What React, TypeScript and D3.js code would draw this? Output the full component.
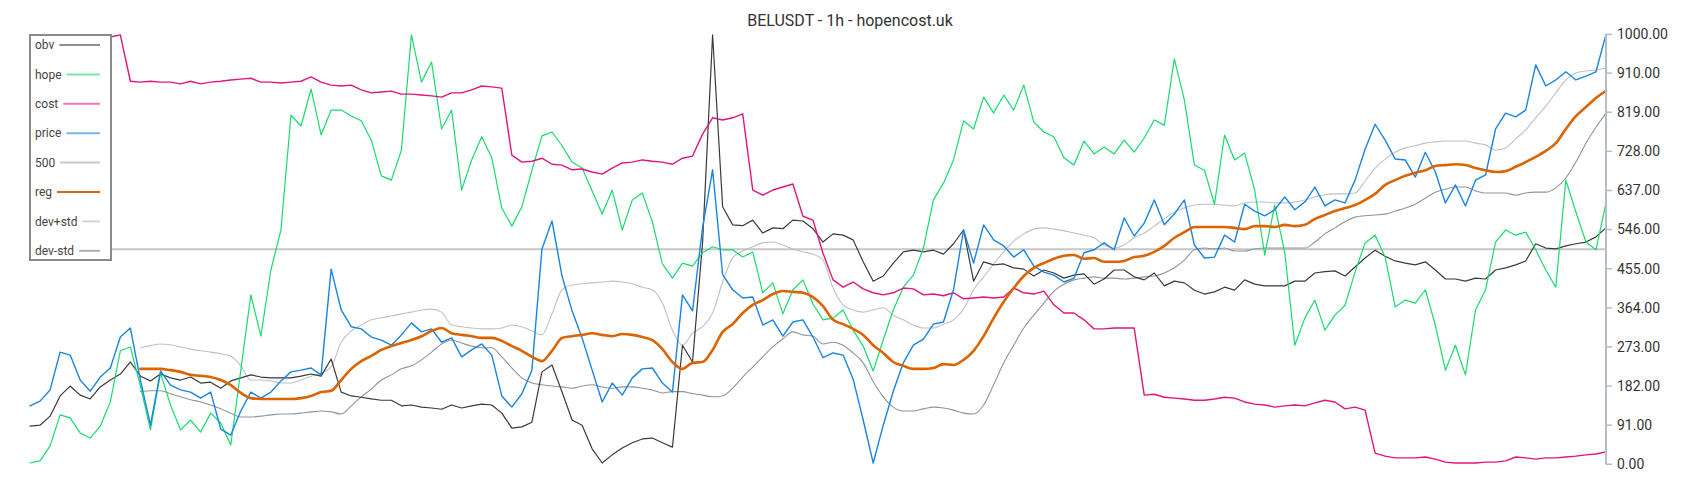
import React from "react";
import * as d3 from "d3";

const W = 1700;
const H = 500;
const title = "BELUSDT - 1h - hopencost.uk";
const seriesNames = ["obv", "hope", "cost", "price", "500", "reg", "dev+std", "dev-std"];
const yTicks = [0, 91, 182, 273, 364, 455, 546, 637, 728, 819, 910, 1000];
const level500 = 500;
const bandStart = 11;

const obv = [
  89, 91, 112, 159, 182, 161, 152, 180, 196, 210,
  238, 205, 194, 210, 201, 196, 203, 189, 191, 177,
  194, 201, 208, 203, 201, 201, 201, 205, 210, 205,
  245, 168, 159, 156, 152, 149, 149, 136, 138, 133,
  131, 128, 138, 131, 136, 140, 138, 119, 84, 87,
  98, 215, 231, 168, 103, 91, 36, 3, 22, 38,
  50, 59, 61, 50, 40, 277, 238, 515, 999, 599,
  557, 555, 568, 538, 550, 548, 568, 566, 548, 517,
  536, 533, 522, 471, 426, 438, 468, 494, 498, 494,
  498, 489, 513, 545, 426, 471, 464, 466, 457, 454,
  438, 452, 445, 433, 440, 443, 419, 431, 452, 452,
  436, 429, 445, 415, 426, 422, 405, 396, 401, 412,
  405, 429, 419, 415, 415, 415, 426, 426, 445, 448,
  450, 438, 459, 480, 498, 484, 473, 468, 464, 471,
  452, 431, 431, 426, 433, 431, 452, 457, 464, 473,
  513, 503, 501, 508, 513, 517, 529, 550,
];

const hope = [
  3, 8, 43, 115, 108, 73, 61, 89, 145, 264,
  273, 182, 80, 212, 138, 80, 103, 75, 119, 96,
  45, 219, 394, 298, 452, 545, 812, 787, 873, 766,
  824, 824, 810, 799, 754, 671, 661, 731, 999, 889,
  936, 780, 824, 638, 708, 762, 713, 596, 554, 599,
  684, 764, 773, 741, 703, 689, 636, 582, 638, 545,
  615, 631, 564, 466, 433, 468, 461, 492, 506, 499,
  499, 482, 494, 399, 422, 350, 406, 429, 373, 336,
  340, 359, 312, 275, 217, 289, 359, 412, 440, 503,
  615, 654, 708, 799, 780, 854, 817, 859, 824, 882,
  796, 773, 762, 713, 696, 752, 722, 738, 722, 754,
  726, 759, 801, 789, 943, 847, 696, 684, 605, 766,
  708, 724, 638, 487, 603, 492, 277, 340, 382, 312,
  347, 370, 447, 515, 533, 482, 366, 382, 375, 406,
  324, 219, 277, 208, 359, 406, 517, 545, 533, 540,
  499, 452, 412, 661, 587, 517, 499, 608,
];

const cost = [
  994, 994, 994, 994, 994, 994, 994, 994, 994, 999,
  891, 889, 891, 889, 889, 885, 891, 885, 889, 891,
  894, 896, 898, 889, 889, 887, 889, 891, 901, 889,
  882, 880, 882, 871, 864, 866, 868, 861, 861, 859,
  857, 854, 864, 864, 871, 880, 878, 875, 719, 703,
  705, 712, 698, 696, 685, 687, 680, 675, 689, 701,
  703, 708, 705, 703, 698, 712, 717, 768, 806, 801,
  806, 815, 638, 626, 638, 645, 652, 577, 568, 491,
  429, 412, 424, 408, 399, 394, 399, 410, 408, 394,
  396, 392, 399, 385, 387, 389, 387, 389, 410, 399,
  396, 403, 371, 352, 352, 336, 315, 315, 317, 317,
  317, 161, 163, 156, 154, 152, 149, 149, 152, 156,
  154, 145, 140, 138, 133, 136, 138, 136, 143, 149,
  145, 129, 133, 126, 26, 19, 15, 15, 15, 17,
  12, 5, 3, 3, 3, 5, 5, 8, 17, 15,
  12, 15, 15, 17, 19, 22, 24, 29,
];

const price = [
  136, 147, 173, 261, 254, 196, 170, 203, 224, 296,
  317, 196, 91, 217, 184, 173, 168, 154, 168, 82,
  68, 124, 168, 154, 168, 194, 215, 219, 224, 208,
  454, 359, 320, 315, 296, 289, 277, 301, 329, 308,
  315, 284, 294, 250, 266, 280, 254, 159, 133, 164,
  219, 501, 566, 438, 357, 294, 219, 145, 189, 161,
  201, 222, 224, 189, 168, 394, 357, 550, 685, 441,
  406, 387, 389, 324, 336, 298, 331, 336, 296, 248,
  259, 254, 198, 103, 3, 91, 170, 236, 277, 291,
  326, 331, 406, 545, 468, 557, 522, 508, 482, 499,
  461, 447, 440, 424, 433, 492, 499, 515, 499, 573,
  531, 561, 615, 557, 582, 615, 510, 480, 482, 533,
  517, 605, 589, 578, 592, 622, 592, 610, 645, 601,
  615, 608, 661, 733, 791, 754, 710, 708, 668, 726,
  680, 608, 650, 601, 661, 673, 780, 817, 808, 824,
  929, 880, 894, 913, 894, 903, 913, 1000,
];

const reg = [
  222, 222, 222, 219, 215, 208, 206, 203, 196,
  184, 166, 154, 152, 152, 152, 152, 154, 159, 168,
  171, 196, 222, 240, 252, 266, 275, 282, 289, 298,
  310, 317, 305, 301, 298, 294, 294, 287, 275, 264,
  250, 240, 264, 294, 298, 301, 305, 301, 298, 303,
  301, 296, 289, 268, 238, 222, 236, 238, 266, 308,
  326, 352, 371, 382, 396, 403, 401, 399, 389, 368,
  336, 326, 315, 301, 277, 259, 238, 229, 222, 222,
  224, 233, 231, 243, 264, 298, 340, 378, 410, 438,
  457, 468, 478, 485, 487, 478, 480, 471, 471, 473,
  482, 485, 494, 508, 527, 540, 552, 552, 552, 552,
  550, 547, 554, 554, 552, 557, 554, 557, 571, 580,
  589, 596, 603, 615, 629, 650, 661, 671, 678, 684,
  694, 696, 698, 696, 689, 684, 680, 682, 692, 703,
  715, 729, 747, 780, 810, 831, 852, 869,
];

const devPlus = [
  271, 276, 280, 278, 273, 268, 264, 261, 257,
  252, 229, 196, 196, 194, 189, 189, 196, 205, 212,
  226, 284, 310, 324, 336, 341, 345, 350, 354, 359,
  361, 354, 324, 320, 317, 315, 315, 317, 324, 320,
  310, 301, 350, 406, 417, 420, 422, 424, 426, 424,
  420, 412, 406, 375, 312, 277, 305, 320, 352, 424,
  480, 496, 506, 515, 517, 510, 501, 494, 489, 475,
  410, 371, 359, 354, 359, 364, 347, 336, 324, 317,
  317, 326, 336, 361, 406, 436, 466, 494, 519, 536,
  547, 550, 547, 543, 538, 533, 527, 510, 503, 510,
  527, 538, 554, 571, 587, 596, 603, 605, 605, 603,
  601, 608, 610, 610, 608, 608, 610, 615, 622, 627,
  629, 629, 631, 659, 689, 710, 726, 736, 741, 747,
  750, 752, 752, 752, 747, 743, 731, 736, 757, 778,
  806, 833, 864, 894, 910, 915, 917, 922,
];

const devMinus = [
  169, 171, 171, 164, 157, 150, 145, 138, 129,
  119, 110, 110, 112, 115, 117, 117, 119, 122, 124,
  122, 117, 136, 157, 175, 196, 208, 222, 229, 243,
  261, 280, 289, 282, 275, 271, 271, 250, 224, 201,
  189, 185, 182, 180, 177, 182, 185, 180, 177, 180,
  180, 177, 173, 166, 169, 169, 164, 161, 157, 159,
  177, 203, 226, 250, 273, 292, 308, 301, 298, 280,
  284, 277, 259, 236, 192, 157, 133, 124, 124, 129,
  133, 131, 126, 119, 117, 138, 185, 236, 277, 317,
  347, 375, 403, 419, 429, 433, 436, 433, 433, 431,
  433, 436, 438, 445, 457, 475, 499, 503, 501, 503,
  496, 496, 501, 503, 503, 503, 503, 503, 517, 536,
  550, 564, 575, 578, 580, 582, 589, 596, 605, 619,
  633, 640, 645, 645, 636, 631, 631, 631, 626, 631,
  633, 633, 643, 666, 703, 747, 784, 817,
];

const colors = ["#3a3a3a", "#17dc6c", "#e0157d", "#1a84e0", "#c6c6c6", "#dc6400", "#bcc2c6", "#8c969e"];
const legendColors = ["#8e8e8e", "#7ee8a6", "#ef78b6", "#78b4ea", "#c8c8c8", "#d9650c", "#d0d4d8", "#a8b0b8"];
const widths = [1.2, 1.2, 1.4, 1.4, 2, 2.6, 1.1, 1.1];

const FONT = "Roboto, 'Noto Sans', sans-serif";

function textWidth(s: string, size: number): number {
  try {
    const c = document.createElement("canvas").getContext("2d");
    if (c) {
      c.font = `${size}px Roboto`;
      return c.measureText(s).width;
    }
  } catch (e) {}
  return s.length * size * 0.52;
}

export default function App() {
  const N = obv.length;
  const left = 30;
  const right = 1606;
  const top = 34.4;
  const bottom = 464.3;
  const x = d3.scaleLinear().domain([0, N - 1]).range([left, right]);
  const y = d3.scaleLinear().domain([0, 1000]).range([bottom, top]);

  const full = (arr: number[]) => arr.map((v, i) => [i, v] as [number, number]);
  const band = (arr: number[]) => arr.map((v, i) => [i + bandStart, v] as [number, number]);

  const lin = d3
    .line<[number, number]>()
    .x((d) => x(d[0]))
    .y((d) => y(d[1]));
  const smooth = d3
    .line<[number, number]>()
    .x((d) => x(d[0]))
    .y((d) => y(d[1]))
    .curve(d3.curveMonotoneX);

  const paths: { d: string; idx: number }[] = [
    { d: lin([[0, level500], [N - 1, level500]]) || "", idx: 4 },
    { d: smooth(band(devPlus)) || "", idx: 6 },
    { d: smooth(band(devMinus)) || "", idx: 7 },
    { d: lin(full(obv)) || "", idx: 0 },
    { d: lin(full(hope)) || "", idx: 1 },
    { d: lin(full(cost)) || "", idx: 2 },
    { d: lin(full(price)) || "", idx: 3 },
    { d: smooth(band(reg)) || "", idx: 5 },
  ];

  const legX = 30;
  const legY = 35;
  const legW = 81;
  const legH = 225;
  const rowY0 = 45;
  const rowStep = 29.4;

  return (
    <div style={{ position: "absolute", left: 0, top: 0, width: W, height: H, background: "#fff" }}>
      <svg width={W} height={H} style={{ display: "block", fontFamily: FONT }}>
        <rect x={0} y={0} width={W} height={H} fill="#fff" />
        <text x={850} y={26} textAnchor="middle" fontSize={16} fill="#333">
          {title}
        </text>
        {paths.map((p, k) => (
          <path
            key={k}
            d={p.d}
            fill="none"
            stroke={colors[p.idx]}
            strokeWidth={widths[p.idx]}
            strokeLinejoin="round"
            strokeLinecap="round"
          />
        ))}
        {/* right axis */}
        <line x1={right} x2={right} y1={top} y2={bottom} stroke="#b3bec6" strokeWidth={2} />
        {yTicks.map((t) => (
          <g key={t}>
            <line x1={right} x2={right + 6} y1={y(t)} y2={y(t)} stroke="#b3bec6" strokeWidth={1.5} />
            <text x={right + 11} y={y(t)} dy="0.35em" fontSize={14} fill="#333">
              {t.toFixed(2)}
            </text>
          </g>
        ))}
        {/* legend */}
        <rect x={legX} y={legY} width={legW} height={legH} fill="#fff" stroke="#8a8a8a" strokeWidth={2} />
        {seriesNames.map((name, i) => {
          const cy = rowY0 + i * rowStep;
          const tw = textWidth(name, 12);
          return (
            <g key={name}>
              <text x={35} y={cy} dy="0.35em" fontSize={12} fill="#444">
                {name}
              </text>
              <line x1={35 + tw + 5} x2={100} y1={cy} y2={cy} stroke={legendColors[i]} strokeWidth={2} />
            </g>
          );
        })}
      </svg>
    </div>
  );
}
